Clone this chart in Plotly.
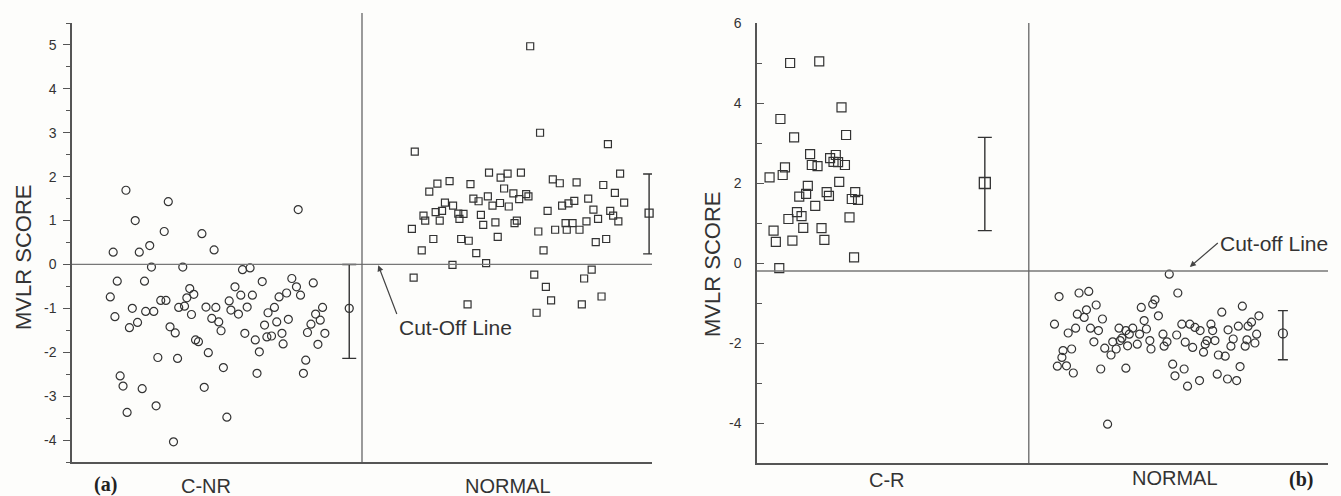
import plotly.graph_objects as go

# ---------------- Panel (a): C-NR vs NORMAL ----------------
a_cnr_x = [9.3, 16.6, 10.9, 15.9, 22.4, 39.0, 7.1, 11.6, 13.4, 24.5, 13.7, 19.1, 29.4, 30.7, 7.8, 12.5,
           6.6, 7.4, 10.4, 9.9, 11.3, 12.7, 14.1, 15.3, 16.2, 16.9, 17.8, 14.8, 18.2, 8.3, 8.8, 12.1,
           9.5, 14.5, 17.5, 20.3, 21.0, 19.8, 19.4, 18.4, 20.6, 23.1, 24.8, 24.1, 25.3, 25.7, 21.8, 21.3,
           23.5, 26.1, 22.8, 26.7, 28.1, 29.1, 27.1, 27.4, 28.7, 30.2, 31.1, 32.8, 29.8, 31.6, 32.3, 31.9,
           33.8, 34.9, 33.2, 35.3, 33.6, 34.4, 36.2, 36.4, 37.3, 35.7, 37.0, 37.9, 38.7, 39.4, 41.6, 43.2,
           42.0, 42.8, 41.2, 40.6, 43.6, 42.4, 40.3, 39.9]
a_cnr_y = [1.69, 1.43, 1.0, 0.75, 0.70, 1.25, 0.28, 0.28, 0.43, 0.33, -0.06, -0.06, -0.12, -0.08, -0.38, -0.38,
           -0.74, -1.19, -1.0, -1.44, -1.32, -1.07, -1.07, -0.82, -0.82, -1.42, -1.56, -2.12, -2.14, -2.54, -2.77, -2.83,
           -3.37, -3.22, -4.04, -0.55, -0.68, -0.76, -0.95, -0.98, -1.14, -0.97, -0.98, -1.23, -1.31, -1.51, -1.76, -1.72,
           -2.01, -2.35, -2.80, -3.48, -0.51, -0.70, -0.83, -1.04, -1.13, -0.97, -0.70, -0.39, -1.57, -1.72, -1.99, -2.48,
           -1.10, -0.98, -1.38, -1.31, -1.65, -1.63, -1.57, -1.81, -1.25, -0.74, -0.65, -0.32, -0.51, -0.70, -0.42, -0.98,
           -1.13, -1.27, -1.36, -1.55, -1.57, -1.82, -2.18, -2.48]

a_norm_x = [79.0, 80.7, 92.4, 59.1, 71.9, 75.1, 73.9, 77.4, 65.1, 63.0, 61.6, 68.7, 82.9, 84.1, 87.0, 91.6,
            94.5, 93.6, 95.2, 74.5, 76.1, 78.3, 78.7, 77.1, 69.2, 70.1, 71.7, 72.5, 73.8, 75.3, 64.3, 65.7,
            62.7, 63.8, 60.6, 60.9, 63.4, 66.6, 67.5, 66.8, 70.5, 70.9, 73.0, 76.7, 76.3, 58.6, 62.3, 67.1,
            68.4, 73.4, 60.3, 69.7, 65.6, 71.4, 82.0, 84.5, 85.6, 86.6, 89.0, 89.9, 92.8, 93.3, 94.2, 90.7,
            88.7, 85.1, 86.3, 83.3, 85.3, 87.5, 80.4, 81.3, 90.3, 92.1, 58.9, 79.7, 81.7, 82.6, 89.6, 88.3,
            91.3, 87.9, 68.2, 80.1]
a_norm_y = [4.97, 3.0, 2.74, 2.57, 2.09, 2.07, 1.98, 2.09, 1.90, 1.84, 1.66, 1.83, 1.94, 1.85, 1.87, 1.81,
            2.07, 1.63, 1.41, 1.73, 1.62, 1.60, 1.55, 1.49, 1.50, 1.44, 1.55, 1.34, 1.40, 1.32, 1.41, 1.34,
            1.19, 1.22, 1.11, 1.0, 1.0, 1.16, 1.15, 1.04, 1.13, 0.90, 0.96, 1.0, 0.94, 0.81, 0.58, 0.58,
            0.54, 0.63, 0.32, 0.26, -0.01, 0.03, 1.22, 1.34, 1.39, 1.45, 1.50, 1.25, 1.22, 1.11, 0.98, 1.04,
            0.98, 0.94, 0.94, 0.79, 0.79, 0.79, 0.75, 0.32, 0.51, 0.58, -0.30, -0.23, -0.51, -0.82, -0.12, -0.32,
            -0.73, -0.91, -0.91, -1.10]

# group mean +/- SD
a_mean_x = [47.8, 99.5]
a_mean_y = [-1.0, 1.17]
a_sd_up = [1.0, 0.89]
a_sd_dn = [1.14, 0.93]
a_cutoff = 0.0
a_divider = 50
a_groups = ["C-NR", "NORMAL"]
a_group_pos = [23.1, 75.2]
a_yticks = [-4, -3, -2, -1, 0, 1, 2, 3, 4, 5]
a_yticktext = ["-4", "-3", "-2", "-1", "0", "1", "2", "3", "4", "5"]

# ---------------- Panel (b): C-R vs NORMAL ----------------
b_cr_x = [5.8, 10.9, 14.8, 4.1, 6.5, 15.6, 9.3, 9.6, 10.6, 12.8, 13.8, 13.4, 14.2, 15.4, 4.9, 4.5,
          2.2, 14.4, 8.9, 7.4, 8.6, 12.2, 12.6, 10.2, 17.2, 16.6, 17.7, 7.0, 5.5, 7.8, 16.2, 8.1,
          11.3, 2.9, 3.3, 6.2, 11.8, 17.0, 3.9]
b_cr_y = [5.0, 5.04, 3.89, 3.6, 3.14, 3.2, 2.72, 2.45, 2.42, 2.62, 2.7, 2.53, 2.52, 2.45, 2.39, 2.2,
          2.14, 2.03, 1.93, 1.66, 1.73, 1.77, 1.68, 1.43, 1.77, 1.6, 1.58, 1.27, 1.1, 1.17, 1.14, 0.88,
          0.87, 0.81, 0.53, 0.56, 0.58, 0.14, -0.13]

b_norm_x = [72.2, 73.7, 52.9, 56.4, 58.1, 59.4, 57.7, 56.1, 57.3, 60.5, 52.1, 54.5, 55.8, 58.4, 59.8, 59.0,
            67.3, 69.7, 69.3, 70.3, 67.8, 63.4, 65.8, 68.2, 67.0, 65.2, 63.9, 62.3, 60.9, 62.9, 64.9, 66.6,
            68.8, 69.0, 62.0, 53.6, 55.1, 53.4, 52.6, 54.2, 55.4, 60.2, 64.6, 61.4, 71.1, 71.8, 71.3, 73.5,
            74.4, 75.8, 76.7, 77.6, 75.0, 76.3, 78.2, 78.8, 79.5, 79.8, 80.2, 72.8, 74.8, 73.2, 77.5, 75.4,
            80.8, 82.0, 80.6, 82.4, 84.0, 84.6, 81.4, 85.0, 87.9, 86.6, 86.0, 84.3, 82.5, 87.5, 83.4, 85.8,
            87.2, 83.0, 85.5, 78.5, 63.6, 64.6]
b_norm_y = [-0.28, -0.75, -0.84, -0.75, -0.71, -1.05, -1.17, -1.28, -1.36, -1.4, -1.53, -1.75, -1.63, -1.63, -1.69, -1.97,
            -1.11, -0.92, -1.03, -1.32, -1.44, -1.63, -1.63, -1.65, -1.78, -1.78, -1.88, -1.97, -2.13, -2.15, -2.07, -2.03,
            -1.94, -2.15, -2.3, -2.19, -2.15, -2.36, -2.58, -2.57, -2.75, -2.65, -2.63, -4.03, -1.78, -1.97, -2.08, -1.8,
            -1.53, -1.53, -1.61, -1.69, -1.98, -2.11, -2.23, -1.94, -1.53, -1.69, -1.94, -2.53, -2.65, -2.82, -2.94, -3.08,
            -2.3, -2.33, -2.78, -2.9, -2.94, -2.59, -1.23, -1.08, -1.32, -1.48, -1.58, -1.58, -1.67, -1.78, -1.9, -1.92,
            -2.0, -2.08, -2.08, -2.03, -1.94, -1.69]

b_mean_x = [39.9, 92.1]
b_mean_y = [2.0, -1.76]
b_sd_up = [1.14, 0.57]
b_sd_dn = [1.19, 0.66]
b_cutoff = -0.2
b_divider = 47.6
b_groups = ["C-R", "NORMAL"]
b_group_pos = [22.8, 73.2]
b_yticks = [-4, -2, 0, 2, 4, 6]
b_yticktext = ["-4", "-2", "0", "2", "4", "6"]

INK = "#333333"
LINE = "#555555"
BG = "#fdfdfb"
FONT = "Liberation Sans, Arial, sans-serif"
SERIF = "Liberation Serif, Times New Roman, serif"

fig = go.Figure()

def pts(x, y, sym, size, xa, ya):
    fig.add_trace(go.Scatter(x=x, y=y, mode="markers", xaxis=xa, yaxis=ya,
                             marker=dict(symbol=sym, size=size, color=INK, line=dict(width=1.2, color=INK)),
                             showlegend=False, cliponaxis=False))

def meanbar(x, y, up, dn, sym, size, capw, xa, ya):
    fig.add_trace(go.Scatter(x=[x], y=[y], mode="markers", xaxis=xa, yaxis=ya,
                             marker=dict(symbol=sym, size=size, color=INK, line=dict(width=1.3, color=INK)),
                             error_y=dict(type="data", symmetric=False, array=[up], arrayminus=[dn],
                                          width=capw, thickness=1.4, color=INK),
                             showlegend=False, cliponaxis=False))

pts(a_cnr_x, a_cnr_y, "circle-open", 8, "x", "y")
pts(a_norm_x, a_norm_y, "square-open", 7, "x", "y")
meanbar(a_mean_x[0], a_mean_y[0], a_sd_up[0], a_sd_dn[0], "circle-open", 8, 7, "x", "y")
meanbar(a_mean_x[1], a_mean_y[1], a_sd_up[1], a_sd_dn[1], "square-open", 8, 6, "x", "y")

pts(b_cr_x, b_cr_y, "square-open", 9, "x2", "y2")
pts(b_norm_x, b_norm_y, "circle-open", 8, "x2", "y2")
meanbar(b_mean_x[0], b_mean_y[0], b_sd_up[0], b_sd_dn[0], "square-open", 11, 7, "x2", "y2")
meanbar(b_mean_x[1], b_mean_y[1], b_sd_up[1], b_sd_dn[1], "circle-open", 9, 5, "x2", "y2")

W, H = 1341, 496
ax_common = dict(showgrid=False, zeroline=False, showline=True, linecolor=LINE, mirror=False, automargin=False)

fig.update_layout(
    width=W, height=H, paper_bgcolor=BG, plot_bgcolor=BG,
    margin=dict(l=0, r=0, t=0, b=0),
    font=dict(family=FONT, color=INK),
    xaxis=dict(domain=[72 / W, 652 / W], range=[0, 100], anchor="y", linewidth=2,
               showticklabels=False, ticks="", **ax_common),
    yaxis=dict(domain=[1 - 462 / H, 1 - 23 / H], range=[-4.5, 5.5], anchor="x", linewidth=1.5,
               tickmode="array", tickvals=a_yticks, ticktext=a_yticktext, ticks="outside", ticklen=7,
               tickcolor=LINE, tickwidth=1.3, tickfont=dict(size=14, color=INK), ticklabelstandoff=4,
               minor=dict(tickmode="linear", tick0=0, dtick=0.5, ticks="outside", ticklen=4, tickcolor=LINE),
               **ax_common),
    xaxis2=dict(domain=[757 / W, 1328 / W], range=[0, 100], anchor="y2", linewidth=2,
                showticklabels=False, ticks="", **ax_common),
    yaxis2=dict(domain=[1 - 463 / H, 1 - 23 / H], range=[-5, 6], anchor="x2", linewidth=1.5,
                tickmode="array", tickvals=b_yticks, ticktext=b_yticktext, ticks="inside", ticklen=7,
                tickcolor=LINE, tickwidth=1.3, tickfont=dict(size=14, color=INK), ticklabelstandoff=11,
                minor=dict(tickmode="linear", tick0=0, dtick=1, ticks="inside", ticklen=5, tickcolor=LINE),
                **ax_common),
)

# cut-off lines and group dividers
fig.add_shape(type="line", xref="x", yref="y", x0=0, x1=100, y0=a_cutoff, y1=a_cutoff,
              line=dict(color="#777777", width=1.3))
fig.add_shape(type="line", xref="x", yref="y domain", x0=a_divider, x1=a_divider, y0=0, y1=1.023,
              line=dict(color="#666666", width=1.3))
fig.add_shape(type="line", xref="x2", yref="y2", x0=0, x1=100, y0=b_cutoff, y1=b_cutoff,
              line=dict(color="#777777", width=1.3))
fig.add_shape(type="line", xref="x2", yref="y2", x0=b_divider, x1=b_divider, y0=-5, y1=6,
              line=dict(color="#666666", width=1.3))

# group (category) labels under each panel
for gx, gt in zip(a_group_pos, a_groups):
    fig.add_annotation(xref="x", yref="paper", x=gx, y=1 - 486 / H, text=gt, showarrow=False,
                       xanchor="center", yanchor="middle", font=dict(size=20, color=INK))
for gx, gt, gy in zip(b_group_pos, b_groups, [480, 478]):
    fig.add_annotation(xref="x2", yref="paper", x=gx, y=1 - gy / H, text=gt, showarrow=False,
                       xanchor="center", yanchor="middle", font=dict(size=20, color=INK))

# cut-off line callouts
fig.add_annotation(xref="x", yref="y", x=52.8, y=-0.02, axref="x", ayref="y", ax=56.0, ay=-1.13,
                   text="Cut-Off Line", xanchor="left", yanchor="top", showarrow=True,
                   arrowhead=2, arrowsize=1, arrowwidth=1.2, arrowcolor="#444444",
                   font=dict(size=21, color=INK))
fig.add_annotation(xref="x2", yref="y2", x=75.8, y=-0.1, axref="x2", ayref="y2", ax=80.7, ay=0.5,
                   text="Cut-off Line", xanchor="left", yanchor="middle", showarrow=True,
                   arrowhead=2, arrowsize=1, arrowwidth=1.2, arrowcolor="#444444",
                   font=dict(size=21, color=INK))

# y-axis titles
fig.add_annotation(xref="paper", yref="paper", x=23 / W, y=1 - 258 / H, text="MVLR SCORE",
                   textangle=-90, showarrow=False, xanchor="center", yanchor="middle",
                   font=dict(size=22, color=INK))
fig.add_annotation(xref="paper", yref="paper", x=712 / W, y=1 - 265 / H, text="MVLR SCORE",
                   textangle=-90, showarrow=False, xanchor="center", yanchor="middle",
                   font=dict(size=22, color=INK))

# panel labels
fig.add_annotation(xref="paper", yref="paper", x=105 / W, y=1 - 484 / H, text="<b>(a)</b>",
                   showarrow=False, xanchor="center", yanchor="middle",
                   font=dict(size=20, color="#222222", family=SERIF))
fig.add_annotation(xref="paper", yref="paper", x=1301 / W, y=1 - 479 / H, text="<b>(b)</b>",
                   showarrow=False, xanchor="center", yanchor="middle",
                   font=dict(size=20, color="#222222", family=SERIF))

fig.write_html("out.html", config={"displayModeBar": False},
               post_script="document.body.style.margin='0';")
